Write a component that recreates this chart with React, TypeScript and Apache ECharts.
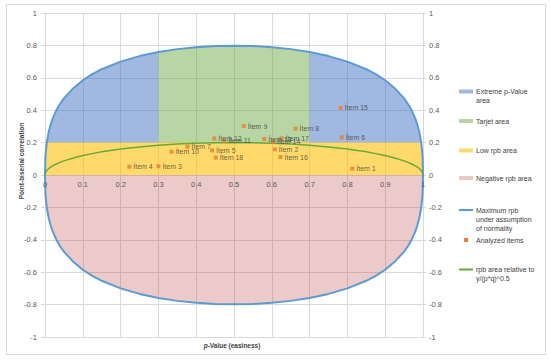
import React, { useEffect, useRef } from 'react';
import * as echarts from 'echarts';

// p-values sampled along the curves
const P = [0, 0.001, 0.002, 0.005, 0.01, 0.015, 0.02, 0.03, 0.04, 0.05, 0.075, 0.1, 0.125, 0.15, 0.2, 0.25, 0.3, 0.35, 0.4, 0.45, 0.5,
  0.55, 0.6, 0.65, 0.7, 0.75, 0.8, 0.85, 0.875, 0.9, 0.925, 0.95, 0.96, 0.97, 0.98, 0.985, 0.99, 0.995, 0.998, 0.999, 1];
// maximum rpb under assumption of normality
const R_MAX = [0, 0.107, 0.142, 0.205, 0.268, 0.312, 0.346, 0.399, 0.44, 0.473, 0.536, 0.585, 0.623, 0.653, 0.7, 0.734, 0.759, 0.777, 0.789, 0.796, 0.798,
  0.796, 0.789, 0.777, 0.759, 0.734, 0.7, 0.653, 0.623, 0.585, 0.536, 0.473, 0.44, 0.399, 0.346, 0.312, 0.268, 0.205, 0.142, 0.107, 0];
// green curve: rpb area relative to y/(p*q)^0.5
const R_REL = [0, 0.013, 0.018, 0.028, 0.04, 0.049, 0.056, 0.068, 0.078, 0.087, 0.105, 0.12, 0.132, 0.143, 0.16, 0.173, 0.183, 0.191, 0.196, 0.199, 0.2,
  0.199, 0.196, 0.191, 0.183, 0.173, 0.16, 0.143, 0.132, 0.12, 0.105, 0.087, 0.078, 0.068, 0.056, 0.049, 0.04, 0.028, 0.018, 0.013, 0];

const LOW_LIMIT = 0.2;
const TARGET_FROM = 0.3;
const TARGET_TO = 0.7;

const ITEM_NAMES = ['Ítem 1', 'Ítem 2', 'Ítem 3', 'Ítem 4', 'Ítem 5', 'Ítem 6', 'Ítem 7', 'Ítem 8', 'Ítem 9',
  'Ítem 10', 'Ítem 11', 'Ítem 12', 'Ítem 13', 'Ítem 14', 'Ítem 15', 'Ítem 16', 'Ítem 17', 'Ítem 18'];
const ITEM_P = [0.813, 0.608, 0.3, 0.223, 0.442, 0.785, 0.377, 0.663, 0.526, 0.335, 0.474, 0.448, 0.58, 0.603, 0.782, 0.623, 0.626, 0.452];
const ITEM_R = [0.039, 0.158, 0.054, 0.051, 0.152, 0.233, 0.175, 0.286, 0.302, 0.144, 0.21, 0.226, 0.222, 0.206, 0.415, 0.111, 0.226, 0.107];

const BLUE_FILL = 'rgba(68,114,196,0.5)';
const GREEN_FILL = 'rgba(112,173,71,0.5)';
const YELLOW_FILL = 'rgba(255,192,0,0.58)';
const PINK_FILL = 'rgba(192,80,77,0.3)';
const MAX_LINE = '#5B9BD5';
const REL_LINE = '#68A83C';
const ITEM_COLOR = '#ED7D31';
const FONT = "'Liberation Sans', Arial, sans-serif";

function band(from: number, to: number, name: string, color: string) {
  const idx = P.map((p, i) => i).filter((i) => P[i] >= from - 1e-9 && P[i] <= to + 1e-9 && R_MAX[i] >= LOW_LIMIT);
  const upper = idx.map((i) => [P[i], R_MAX[i]]);
  const lower = idx.slice().reverse().map((i) => [P[i], LOW_LIMIT]);
  const pts = upper.concat(lower);
  return {
    type: 'custom', name, silent: true, z: 2,
    data: [pts[0]],
    renderItem: (params: any, api: any) => ({
      type: 'polygon',
      shape: { points: pts.map((p) => api.coord(p)) },
      style: { fill: color },
    }),
  };
}

const LEGEND = [
  { kind: 'rect', color: BLUE_FILL, y: 91.5, text: 'Extreme p-Value\narea' },
  { kind: 'rect', color: GREEN_FILL, y: 121, text: 'Tarjet area' },
  { kind: 'rect', color: YELLOW_FILL, y: 150.5, text: 'Low rpb area' },
  { kind: 'rect', color: PINK_FILL, y: 178, text: 'Negative rpb area' },
  { kind: 'line', color: MAX_LINE, y: 210, text: 'Maximum rpb\nunder assumption\nof normality' },
  { kind: 'square', color: ITEM_COLOR, y: 240, text: 'Analyzed items' },
  { kind: 'line', color: REL_LINE, y: 269.5, text: 'rpb area relative to\ny/(p*q)^0.5' },
];

export default function App() {
  const ref = useRef<HTMLDivElement>(null);
  useEffect(() => {
    if (!ref.current) return;
    const chart = echarts.init(ref.current, undefined, { renderer: 'svg' });

    const legendGraphics: any[] = [];
    LEGEND.forEach((l) => {
      if (l.kind === 'rect') {
        legendGraphics.push({ type: 'rect', shape: { x: 459, y: l.y - 2, width: 14, height: 4 }, style: { fill: l.color } });
      } else if (l.kind === 'line') {
        legendGraphics.push({ type: 'line', shape: { x1: 459, y1: l.y, x2: 473, y2: l.y }, style: { stroke: l.color, lineWidth: 2 } });
      } else {
        legendGraphics.push({ type: 'rect', shape: { x: 464, y: l.y - 2, width: 4, height: 4 }, style: { fill: l.color } });
      }
      legendGraphics.push({
        type: 'text', x: 476, y: l.y - 4.5,
        style: { text: l.text, fontSize: 7, fontFamily: FONT, fill: '#404040', lineHeight: 9, textVerticalAlign: 'top', textAlign: 'left' },
      });
    });

    const option: any = {
      animation: false,
      backgroundColor: '#ffffff',
      grid: { left: 45, right: 127, top: 13, bottom: 26, containLabel: false },
      xAxis: [
        {
          type: 'value', min: 0, max: 1, interval: 0.1, position: 'bottom', offset: -162,
          axisLine: { show: true, onZero: false, lineStyle: { color: '#D9D9D9' } },
          axisTick: { show: false },
          axisLabel: { show: false },
          splitLine: { show: true, lineStyle: { color: '#D9D9D9', width: 1 } },
        },
        {
          type: 'value', min: 0, max: 1, interval: 0.1, position: 'bottom', offset: -162,
          axisLine: { show: false, onZero: false },
          axisTick: { show: false },
          axisLabel: {
            fontSize: 7.5, color: '#595959', margin: 5, fontFamily: FONT,
            showMinLabel: true, showMaxLabel: true, hideOverlap: false, alignMinLabel: 'center', alignMaxLabel: 'center',
          },
          splitLine: { show: false },
          z: 8,
        },
      ],
      yAxis: [
        {
          type: 'value', position: 'left', min: -1, max: 1, interval: 0.2,
          axisLine: { show: true, onZero: false, lineStyle: { color: '#D9D9D9' } },
          axisTick: { show: true, length: 4, lineStyle: { color: '#D9D9D9' } },
          axisLabel: { fontSize: 7.5, color: '#595959', margin: 8, fontFamily: FONT },
          splitLine: { show: true, lineStyle: { color: '#D9D9D9', width: 1 } },
        },
        {
          type: 'value', position: 'right', min: -1, max: 1, interval: 0.2,
          axisLine: { show: true, onZero: false, lineStyle: { color: '#D9D9D9' } },
          axisTick: { show: true, length: 3, lineStyle: { color: '#D9D9D9' } },
          axisLabel: { fontSize: 7.5, color: '#595959', margin: 6, fontFamily: FONT },
          splitLine: { show: false },
        },
      ],
      series: [
        {
          type: 'line', name: 'Negative rpb area', data: P.map((p, i) => [p, -R_MAX[i]]), symbol: 'none', silent: true,
          lineStyle: { width: 0, opacity: 0 }, areaStyle: { color: PINK_FILL, opacity: 1 },
        },
        {
          type: 'line', name: 'Low rpb area', data: P.map((p, i) => [p, Math.min(LOW_LIMIT, R_MAX[i])]), symbol: 'none', silent: true,
          lineStyle: { width: 0, opacity: 0 }, areaStyle: { color: YELLOW_FILL, opacity: 1 },
        },
        band(0, TARGET_FROM, 'Extreme p-Value area', BLUE_FILL),
        band(TARGET_FROM, TARGET_TO, 'Tarjet area', GREEN_FILL),
        band(TARGET_TO, 1, 'Extreme p-Value area', BLUE_FILL),
        {
          type: 'line', name: 'Maximum rpb under assumption of normality', data: P.map((p, i) => [p, R_MAX[i]]), symbol: 'none',
          lineStyle: { color: MAX_LINE, width: 2 }, z: 4,
        },
        {
          type: 'line', name: 'Maximum rpb under assumption of normality', data: P.map((p, i) => [p, -R_MAX[i]]), symbol: 'none',
          lineStyle: { color: MAX_LINE, width: 2 }, z: 4,
        },
        {
          type: 'line', name: 'rpb area relative to y/(p*q)^0.5', data: P.map((p, i) => [p, R_REL[i]]), symbol: 'none',
          lineStyle: { color: REL_LINE, width: 1.5 }, z: 4,
        },
        {
          type: 'scatter', name: 'Analyzed items', z: 6,
          data: ITEM_NAMES.map((n, i) => ({ name: n, value: [ITEM_P[i], ITEM_R[i]] })),
          symbol: 'rect', symbolSize: 4,
          itemStyle: { color: ITEM_COLOR },
          label: { show: true, position: 'right', distance: 2, formatter: '{b}', fontSize: 7, color: '#404040', fontFamily: FONT },
        },
      ],
      graphic: [
        { type: 'rect', shape: { x: 6.5, y: 4.5, width: 539, height: 350 }, style: { fill: 'none', stroke: '#D9D9D9', lineWidth: 1 }, silent: true },
        {
          type: 'text', x: 21, y: 161, rotation: Math.PI / 2,
          style: { text: 'Point-biserial correlation', fontSize: 6.5, fontWeight: 'bold', fontFamily: FONT, fill: '#404040', textAlign: 'center', textVerticalAlign: 'middle' },
        },
        {
          type: 'text', x: 232, y: 345,
          style: {
            text: '{i|p}-Value (easiness)', fontSize: 6.5, fontWeight: 'bold', fontFamily: FONT, fill: '#404040', textAlign: 'center', textVerticalAlign: 'middle',
            rich: { i: { fontStyle: 'italic', fontWeight: 'bold', fontSize: 6.5, fontFamily: FONT, fill: '#404040' } },
          },
        },
        ...legendGraphics,
      ],
    };
    chart.setOption(option);
    return () => chart.dispose();
  }, []);
  return <div ref={ref} style={{ position: 'fixed', left: 0, top: 0, width: 550, height: 363, background: '#fff' }} />;
}
